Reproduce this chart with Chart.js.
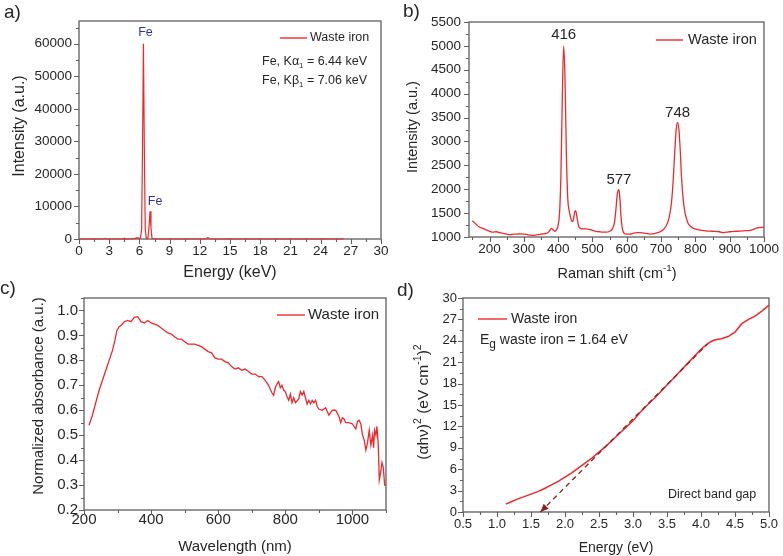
<!DOCTYPE html>
<html><head><meta charset="utf-8">
<script src="https://cdn.jsdelivr.net/npm/chart.js@4.4.1/dist/chart.umd.min.js"></script>
<style>
html,body{margin:0;padding:0;background:#fff;}
#wrap{position:relative;width:783px;height:556px;overflow:hidden;background:#fff;}
#wrap canvas{position:absolute;left:0;top:0;}
</style></head><body>
<div id="wrap">
<canvas id="pa" width="783" height="556"></canvas>
<canvas id="pb" width="783" height="556"></canvas>
<canvas id="pc" width="783" height="556"></canvas>
<canvas id="pd" width="783" height="556"></canvas>
</div>
<script>
// ---------------- DATA ----------------
// a) EDS spectrum
const edsEnergy = [
  0.1,0.5,1.0,1.5,2.0,2.5,2.6,2.7,3.5,4.4,
  4.5,4.6,5.0,5.5,5.8,5.9,6.0,6.12,6.22,6.31,
  6.4,6.49,6.58,6.68,6.75,6.85,6.95,7.06,7.15,7.25,
  7.4,8.0,9.0,10,11,12,12.6,12.8,13.0,13.5,
  15,18,21,24,26.3];
const edsCounts = [
  0,0,0,0,0,0,200,0,0,0,
  250,0,0,100,400,300,100,500,3000,28000,
  60000,28000,3000,400,200,400,3500,8500,3500,200,
  0,0,0,0,0,0,0,450,0,0,
  0,0,0,0,0];
const edsXTicks = [0,3,6,9,12,15,18,21,24,27,30];
const edsXLabels = ['0','3','6','9','12','15','18','21','24','27','30'];
const edsYTicks = [0,10000,20000,30000,40000,50000,60000];
const edsYLabels = ['0','10000','20000','30000','40000','50000','60000'];

// b) Raman spectrum
const ramanShift = [
  150,160,170,180,190,200,210,220,230,240,
  250,260,270,280,290,300,310,320,330,340,
  350,360,370,375,380,385,390,395,400,404,
  408,412,416,420,424,428,432,436,440,444,
  448,451,455,460,465,470,480,490,500,510,
  520,530,540,550,558,564,568,572,575,577,
  580,583,587,592,600,610,620,630,640,650,
  660,670,680,690,700,710,718,724,730,735,
  740,744,748,752,756,760,765,770,778,786,
  795,810,830,850,870,880,890,900,920,940,
  960,970,980,990,1000];
const ramanIntensity = [
  1340,1270,1210,1180,1150,1120,1100,1110,1090,1075,
  1060,1050,1060,1060,1065,1060,1050,1040,1035,1050,
  1060,1070,1090,1130,1180,1150,1120,1150,1250,1500,
  2300,3900,5000,4300,2700,1800,1550,1420,1320,1350,
  1520,1550,1400,1220,1180,1170,1170,1160,1140,1120,
  1110,1100,1100,1120,1170,1300,1550,1880,1980,1990,
  1800,1450,1180,1080,1060,1060,1080,1090,1090,1080,
  1070,1060,1070,1090,1120,1180,1280,1420,1700,2150,
  2800,3250,3400,3250,2800,2200,1750,1500,1300,1220,
  1180,1150,1130,1120,1110,1090,1100,1110,1120,1130,
  1140,1160,1190,1200,1200];
const ramanPeaks = [416,577,748];
const ramanPeakHeights = [5000,1990,3400];
const ramanXTicks = [200,300,400,500,600,700,800,900,1000];
const ramanXLabels = ['200','300','400','500','600','700','800','900','1000'];
const ramanYTicks = [1000,1500,2000,2500,3000,3500,4000,4500,5000,5500];
const ramanYLabels = ['1000','1500','2000','2500','3000','3500','4000','4500','5000','5500'];

// c) UV-Vis absorbance
const uvWavelength = [
  215,225,235,245,255,265,275,285,292,298,
  305,310,320,330,340,350,360,370,380,390,
  400,410,420,430,440,450,460,470,480,490,
  500,510,520,530,540,550,560,570,580,590,
  600,610,620,630,640,650,660,670,680,690,
  700,710,720,730,740,750,760,765,770,775,
  780,785,790,795,800,805,810,815,820,825,
  830,840,845,850,855,860,865,870,875,880,
  885,890,895,900,910,920,925,930,940,950,
  960,965,970,975,980,990,1000,1010,1015,1020,
  1025,1030,1035,1040,1045,1050,1055,1060,1063,1066,
  1070,1073,1077,1080,1084,1088,1092,1096,1100];
const uvAbsorbance = [
  0.54,0.58,0.63,0.68,0.72,0.76,0.80,0.84,0.88,0.92,
  0.935,0.94,0.955,0.96,0.955,0.972,0.975,0.955,0.95,0.96,
  0.95,0.945,0.94,0.93,0.92,0.91,0.905,0.895,0.885,0.885,
  0.875,0.865,0.865,0.865,0.86,0.855,0.845,0.835,0.83,0.81,
  0.805,0.805,0.795,0.79,0.775,0.765,0.77,0.76,0.765,0.755,
  0.745,0.745,0.735,0.735,0.72,0.70,0.67,0.66,0.69,0.705,
  0.715,0.69,0.70,0.68,0.675,0.655,0.64,0.665,0.63,0.65,
  0.63,0.645,0.675,0.66,0.675,0.65,0.625,0.64,0.625,0.64,
  0.63,0.64,0.615,0.605,0.60,0.61,0.595,0.58,0.60,0.60,
  0.575,0.55,0.57,0.565,0.55,0.55,0.545,0.525,0.555,0.56,
  0.545,0.50,0.48,0.44,0.47,0.52,0.46,0.50,0.45,0.52,
  0.50,0.535,0.46,0.32,0.35,0.39,0.37,0.30,0.30];
const uvXTicks = [200,400,600,800,1000];
const uvXLabels = ['200','400','600','800','1000'];
const uvYTicks = [0.2,0.3,0.4,0.5,0.6,0.7,0.8,0.9,1.0];
const uvYLabels = ['0.2','0.3','0.4','0.5','0.6','0.7','0.8','0.9','1.0'];

// d) Tauc plot
const taucEnergy = [
  1.13,1.2,1.3,1.4,1.5,1.6,1.7,1.8,1.9,2.0,
  2.1,2.2,2.3,2.4,2.5,2.6,2.7,2.8,2.9,3.0,
  3.1,3.2,3.3,3.4,3.5,3.6,3.7,3.8,3.9,4.0,
  4.1,4.15,4.2,4.3,4.4,4.5,4.6,4.7,4.8,4.9,
  5.0];
const taucValue = [
  1.1,1.4,1.8,2.15,2.5,2.85,3.3,3.8,4.3,4.9,
  5.5,6.2,6.9,7.6,8.4,9.2,10.1,11.0,11.9,12.8,
  13.9,14.9,15.8,16.8,17.8,18.8,19.8,20.8,21.8,22.8,
  23.6,23.9,24.1,24.3,24.6,25.2,26.4,27.0,27.5,28.2,
  29.0];
const fitEnergy = [1.64, 4.1];
const fitValue = [0, 23.6];
const taucXTicks = [0.5,1.0,1.5,2.0,2.5,3.0,3.5,4.0,4.5,5.0];
const taucXLabels = ['0.5','1.0','1.5','2.0','2.5','3.0','3.5','4.0','4.5','5.0'];
const taucYTicks = [0,3,6,9,12,15,18,21,24,27,30];
const taucYLabels = ['0','3','6','9','12','15','18','21','24','27','30'];

// ---------------- STYLE / HELPERS ----------------
const FAM = '"Liberation Sans", Arial, Helvetica, sans-serif';
const TXT = '#262626';
const RED = '#ec2a2e';
const AXIS = '#5f5f5f';
const W = 783, H = 556;
Chart.defaults.font.family = FAM;

function pts(xs, ys) { return xs.map((x, i) => ({x: x, y: ys[i]})); }

function minorTicks(maj, min, max) {
  const step = maj[1] - maj[0], out = [], eps = step * 1e-6;
  if (maj[0] - step / 2 >= min - eps) out.push(maj[0] - step / 2);
  for (let i = 0; i < maj.length - 1; i++) out.push((maj[i] + maj[i + 1]) / 2);
  const last = maj[maj.length - 1];
  if (last + step / 2 <= max + eps) out.push(last + step / 2);
  return out;
}

// rich text: segs [{t, sc, dy}] ; sc = size scale, dy = vertical shift in em (positive = down)
function drawRich(ctx, segs, x, y, size, align, color, rotate) {
  ctx.save();
  ctx.translate(x, y);
  if (rotate) ctx.rotate(-Math.PI / 2);
  let total = 0;
  const items = segs.map(s => {
    const sz = size * (s.sc || 1);
    ctx.font = sz + 'px ' + FAM;
    const w = ctx.measureText(s.t).width;
    total += w;
    return {s: s, sz: sz, w: w};
  });
  let cx = align === 'center' ? -total / 2 : (align === 'right' ? -total : 0);
  ctx.fillStyle = color;
  ctx.textBaseline = 'middle';
  ctx.textAlign = 'left';
  for (const it of items) {
    ctx.font = it.sz + 'px ' + FAM;
    ctx.fillText(it.s.t, cx, (it.s.dy || 0) * size);
    cx += it.w;
  }
  ctx.restore();
}

function makePanel(id, p) {
  const [L, T, R, B] = p.rect;
  const WY = 60, HX = 30;
  const xMinor = minorTicks(p.xTicks, p.xMin, p.xMax);
  const yMinor = minorTicks(p.yTicks, p.yMin, p.yMax);
  const deco = {
    id: 'deco_' + id,
    beforeDatasetsDraw(chart) {
      const ctx = chart.ctx, a = chart.chartArea, xs = chart.scales.x, ys = chart.scales.y;
      ctx.save();
      ctx.strokeStyle = AXIS;
      ctx.lineWidth = 1.3;
      ctx.strokeRect(a.left, a.top, a.right - a.left, a.bottom - a.top);
      ctx.lineWidth = 1.1;
      ctx.beginPath();
      const tx = (v, len) => { const px = Math.round(xs.getPixelForValue(v)) + 0.5; ctx.moveTo(px, a.bottom); ctx.lineTo(px, a.bottom + len); };
      const ty = (v, len) => { const py = Math.round(ys.getPixelForValue(v)) + 0.5; ctx.moveTo(a.left, py); ctx.lineTo(a.left - len, py); };
      p.xTicks.forEach(v => tx(v, 5)); xMinor.forEach(v => tx(v, 3));
      p.yTicks.forEach(v => ty(v, 5)); yMinor.forEach(v => ty(v, 3));
      ctx.stroke();
      ctx.restore();
    },
    afterDatasetsDraw(chart) {
      const ctx = chart.ctx;
      if (p.extra) p.extra(chart, ctx);
      for (const t of p.texts) {
        const pos = typeof t.at === 'function' ? t.at(chart) : t.at;
        drawRich(ctx, t.segs, pos[0], pos[1], t.size, t.align || 'left', t.color || TXT, t.rotate);
      }
      if (p.legend) {
        const g = p.legend;
        ctx.save();
        ctx.strokeStyle = RED; ctx.lineWidth = 1.4;
        ctx.beginPath(); ctx.moveTo(g.x1, g.y); ctx.lineTo(g.x2, g.y); ctx.stroke();
        ctx.restore();
        drawRich(ctx, [{t: g.text}], g.tx, g.y, g.size, 'left', TXT, false);
      }
    }
  };
  return new Chart(document.getElementById(id), {
    type: 'line',
    data: {datasets: p.datasets},
    options: {
      responsive: false, animation: false, events: [], devicePixelRatio: 1,
      layout: {padding: {left: L - WY, top: T, right: W - R, bottom: Math.max(0, H - B - HX)}},
      plugins: {legend: {display: false}, tooltip: {enabled: false}},
      elements: {point: {radius: 0}},
      scales: {
        x: {
          type: 'linear', min: p.xMin, max: p.xMax,
          afterFit(s) { s.height = HX; },
          afterBuildTicks(s) { s.ticks = p.xTicks.map(v => ({value: v})); },
          ticks: {autoSkip: false, maxRotation: 0, minRotation: 0, padding: p.xPad,
                  font: {size: p.tickSize}, color: TXT,
                  callback: (v, i) => p.xLabels[i]},
          grid: {display: false, drawTicks: false}, border: {display: false}
        },
        y: {
          type: 'linear', min: p.yMin, max: p.yMax,
          afterFit(s) { s.width = WY; },
          afterBuildTicks(s) { s.ticks = p.yTicks.map(v => ({value: v})); },
          ticks: {autoSkip: false, padding: p.yPad, font: {size: p.tickSize}, color: TXT,
                  callback: (v, i) => p.yLabels[i]},
          grid: {display: false, drawTicks: false}, border: {display: false}
        }
      }
    },
    plugins: [deco]
  });
}

const lineDs = (xs, ys, extra) => Object.assign({
  data: pts(xs, ys), borderColor: RED, borderWidth: 1.3, pointRadius: 0,
  fill: false, tension: 0, clip: 3
}, extra || {});

// ---------------- PANEL a ----------------
makePanel('pa', {
  rect: [79, 21, 381, 239],
  xMin: 0, xMax: 30, yMin: 0, yMax: 67000,
  xTicks: edsXTicks, xLabels: edsXLabels, yTicks: edsYTicks, yLabels: edsYLabels,
  tickSize: 13.5, xPad: 4, yPad: 7,
  datasets: [lineDs(edsEnergy, edsCounts, {borderWidth: 1.2})],
  legend: {x1: 280, x2: 307, y: 38, tx: 310, text: 'Waste iron', size: 12.5},
  texts: [
    {segs: [{t: 'a)'}], at: [4, 13], size: 19},
    {segs: [{t: 'Intensity (a.u.)'}], at: [20, 126], size: 16, align: 'center', rotate: true},
    {segs: [{t: 'Energy (keV)'}], at: [230, 273], size: 16, align: 'center'},
    {segs: [{t: 'Fe'}], at: c => [c.scales.x.getPixelForValue(edsEnergy[20]) + 2, c.scales.y.getPixelForValue(edsCounts[20]) - 11], size: 12.5, align: 'center', color: '#2f3592'},
    {segs: [{t: 'Fe'}], at: c => [c.scales.x.getPixelForValue(edsEnergy[27]) + 5, c.scales.y.getPixelForValue(edsCounts[27]) - 10], size: 12.5, align: 'center', color: '#2f3592'},
    {segs: [{t: 'Fe, K\u03b1'}, {t: '1', sc: 0.62, dy: 0.3}, {t: ' = 6.44 keV'}], at: [367, 62], size: 12.5, align: 'right'},
    {segs: [{t: 'Fe, K\u03b2'}, {t: '1', sc: 0.62, dy: 0.3}, {t: ' = 7.06 keV'}], at: [367, 81], size: 12.5, align: 'right'}
  ]
});

// ---------------- PANEL b ----------------
makePanel('pb', {
  rect: [469, 22, 768, 237],
  xMin: 140, xMax: 1000, yMin: 1000, yMax: 5500,
  xTicks: ramanXTicks, xLabels: ramanXLabels, yTicks: ramanYTicks, yLabels: ramanYLabels,
  tickSize: 13.5, xPad: 4, yPad: 8,
  datasets: [lineDs(ramanShift, ramanIntensity, {cubicInterpolationMode: 'monotone'})],
  legend: {x1: 656, x2: 683, y: 40, tx: 688, text: 'Waste iron', size: 14.5},
  texts: [
    {segs: [{t: 'b)'}], at: [403, 12], size: 19},
    {segs: [{t: 'Intensity (a.u.)'}], at: [413, 127], size: 14.5, align: 'center', rotate: true},
    {segs: [{t: 'Raman shift (cm'}, {t: '-1', sc: 0.68, dy: -0.38}, {t: ')'}], at: [617, 274], size: 14.5, align: 'center'},
    {segs: [{t: String(ramanPeaks[0])}], at: c => [c.scales.x.getPixelForValue(ramanPeaks[0]), c.scales.y.getPixelForValue(ramanPeakHeights[0]) - 11], size: 15, align: 'center'},
    {segs: [{t: String(ramanPeaks[1])}], at: c => [c.scales.x.getPixelForValue(ramanPeaks[1]), c.scales.y.getPixelForValue(ramanPeakHeights[1]) - 10], size: 15, align: 'center'},
    {segs: [{t: String(ramanPeaks[2])}], at: c => [c.scales.x.getPixelForValue(ramanPeaks[2]), c.scales.y.getPixelForValue(ramanPeakHeights[2]) - 9], size: 15, align: 'center'}
  ]
});

// ---------------- PANEL c ----------------
makePanel('pc', {
  rect: [84, 298, 386, 510],
  xMin: 200, xMax: 1100, yMin: 0.2, yMax: 1.05,
  xTicks: uvXTicks, xLabels: uvXLabels, yTicks: uvYTicks, yLabels: uvYLabels,
  tickSize: 15, xPad: 1, yPad: 6,
  datasets: [lineDs(uvWavelength, uvAbsorbance)],
  legend: {x1: 277, x2: 305, y: 315, tx: 308, text: 'Waste iron', size: 15},
  texts: [
    {segs: [{t: 'c)'}], at: [0, 289], size: 19},
    {segs: [{t: 'Normalized absorbance (a.u.)'}], at: [38.5, 396], size: 15, align: 'center', rotate: true},
    {segs: [{t: 'Wavelength (nm)'}], at: [235, 547], size: 15, align: 'center'}
  ]
});

// ---------------- PANEL d ----------------
makePanel('pd', {
  rect: [463, 298, 769, 512],
  xMin: 0.5, xMax: 5.0, yMin: 0, yMax: 30,
  xTicks: taucXTicks, xLabels: taucXLabels, yTicks: taucYTicks, yLabels: taucYLabels,
  tickSize: 13, xPad: 5, yPad: 6,
  datasets: [
    lineDs(fitEnergy, fitValue, {borderColor: '#8a1f1f', borderWidth: 1.3, borderDash: [5, 4]}),
    lineDs(taucEnergy, taucValue, {borderWidth: 1.5})
  ],
  legend: {x1: 478, x2: 507, y: 319, tx: 511, text: 'Waste iron', size: 14},
  extra: (chart, ctx) => {
    const xs = chart.scales.x, ys = chart.scales.y;
    const x0 = xs.getPixelForValue(fitEnergy[0]), y0 = ys.getPixelForValue(fitValue[0]);
    const x1 = xs.getPixelForValue(fitEnergy[1]), y1 = ys.getPixelForValue(fitValue[1]);
    const ang = Math.atan2(y0 - y1, x0 - x1), len = 8, hw = 3.5;
    ctx.save();
    ctx.fillStyle = '#8a1f1f';
    ctx.beginPath();
    ctx.moveTo(x0, y0);
    ctx.lineTo(x0 - len * Math.cos(ang) + hw * Math.sin(ang), y0 - len * Math.sin(ang) - hw * Math.cos(ang));
    ctx.lineTo(x0 - len * Math.cos(ang) - hw * Math.sin(ang), y0 - len * Math.sin(ang) + hw * Math.cos(ang));
    ctx.closePath(); ctx.fill();
    ctx.restore();
  },
  texts: [
    {segs: [{t: 'd)'}], at: [397, 291], size: 19},
    {segs: [{t: '(\u03b1h\u03bd)'}, {t: '2', sc: 0.68, dy: -0.38}, {t: ' (eV cm'}, {t: '-1', sc: 0.68, dy: -0.38}, {t: ')'}, {t: '2', sc: 0.68, dy: -0.38}],
     at: [423.5, 402], size: 15.5, align: 'center', rotate: true},
    {segs: [{t: 'Energy (eV)'}], at: [616, 548], size: 14, align: 'center'},
    {segs: [{t: 'E'}, {t: 'g', sc: 0.85, dy: 0.35}, {t: ' waste iron = 1.64 eV'}], at: [480, 340], size: 14},
    {segs: [{t: 'Direct band gap'}], at: [668, 495], size: 12.5}
  ]
});
</script>
</body></html>
